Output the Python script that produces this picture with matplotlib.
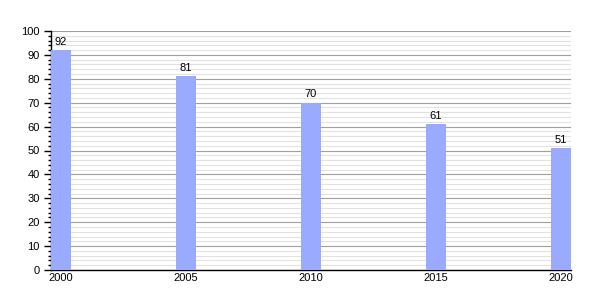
import matplotlib
matplotlib.use("Agg")
import matplotlib.pyplot as plt
from matplotlib.ticker import MultipleLocator

years = [2000, 2005, 2010, 2015, 2020]
values = [92, 81, 70, 61, 51]

plt.rcParams['font.family'] = ['Liberation Sans', 'DejaVu Sans']

fig = plt.figure(figsize=(6, 3), dpi=100)
ax = fig.add_axes([51/600, 1 - 270/300, 520/600, 239/300])

ax.bar(years, values, width=0.8, color='#99aaff', zorder=3)
for x, v in zip(years, values):
    ax.text(x, v + 1.5, str(v), ha='center', va='bottom', fontsize=8, color='black', zorder=4)

ax.set_xlim(1999.6, 2020.4)
ax.set_ylim(0, 100)
ax.set_xticks(years)
ax.set_xticklabels([str(y) for y in years])
ax.yaxis.set_major_locator(MultipleLocator(10))
ax.yaxis.set_minor_locator(MultipleLocator(2))
ax.grid(axis='y', which='major', color='#a0a0a0', linewidth=0.8, zorder=1)
ax.grid(axis='y', which='minor', color='#e2e2e2', linewidth=0.8, zorder=0)
for s in ['top', 'right']:
    ax.spines[s].set_visible(False)
ax.spines['left'].set_linewidth(1)
ax.spines['bottom'].set_linewidth(1)
ax.tick_params(axis='y', which='major', length=5, width=1, labelsize=8, pad=3)
ax.tick_params(axis='y', which='minor', length=2.5, width=1)
ax.tick_params(axis='x', which='major', length=0, labelsize=8, pad=2)

fig.savefig('out.png', dpi=100)
